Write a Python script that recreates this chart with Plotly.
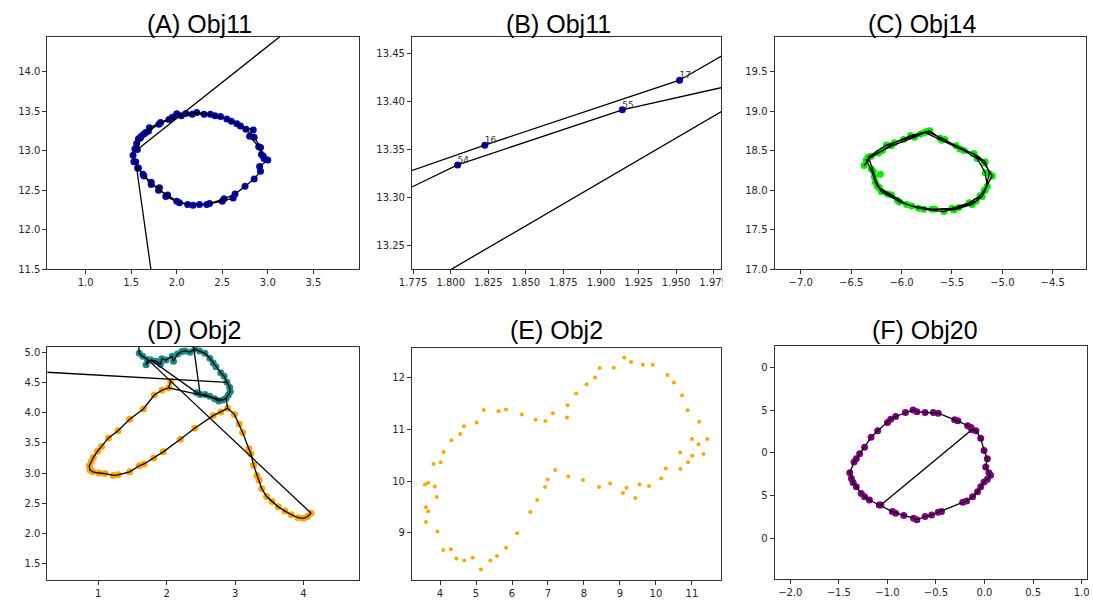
import plotly.graph_objects as go

W, H = 1093, 603

# ---------------- (A)/(B) Obj11 : ordered track samples ----------------
obj11_x = [2.62, 2.50, 2.33, 2.18, 2.03, 1.88, 1.81, 1.72, 1.63, 1.57,
           1.55, 2.20, 8.00, 1.568, 1.60, 1.70, 1.8227, 1.9523, 2.00, 2.10,
           2.22, 2.37, 2.48, 2.60, 2.70, 2.84, 2.80, 2.90, 2.95, 3.00,
           2.91, 2.92, 2.85, 2.75, 2.64, 2.52, 2.36, 2.25, 2.12, 2.00,
           1.90, 1.80, 1.72, 1.64, 1.58, 1.53, 1.52, 1.54, 1.56, 1.58,
           1.61, 1.64, 1.66, 1.69, 1.8046, 1.9142, 2.05, 2.17, 2.30, 2.42,
           2.55, 2.66, 2.76, 2.85, 2.92, 2.93, 2.96]
obj11_y = [12.40, 12.36, 12.32, 12.31, 12.34, 12.42, 12.53, 12.57, 12.70, 12.78,
           12.86, 7.55, 18.874, 13.014, 13.16, 13.288, 13.3547, 13.4222, 13.465, 13.47,
           13.48, 13.46, 13.43, 13.37, 13.31, 13.26, 13.18, 13.05, 12.93, 12.88,
           12.80, 12.74, 12.64, 12.55, 12.45, 12.39, 12.33, 12.32, 12.32, 12.36,
           12.44, 12.50, 12.60, 12.68, 12.78, 12.86, 12.94, 13.02, 13.09, 13.15,
           13.18, 13.21, 13.23, 13.248, 13.3342, 13.3914, 13.439, 13.46, 13.46, 13.44,
           13.40, 13.34, 13.27, 13.17, 13.04, 12.95, 12.90]

# ---------------- (C) Obj14 : three passes around the loop ----------------
obj14_x = [-6.37, -6.30, -6.19, -6.07, -5.91, -5.75, -5.57, -5.38, -5.25, -5.17,
           -5.15, -5.22, -5.33, -5.50, -5.67, -5.83, -6.02, -6.14, -6.24, -6.28,
           -6.33, -6.15, -5.98, -5.81, -5.72, -5.62, -5.46, -5.29, -5.18, -5.10,
           -5.18, -5.26, -5.43, -5.58, -5.78, -5.95, -6.10, -6.22, -6.27,
           -6.35, -6.23, -6.10, -5.87, -5.77, -5.60, -5.42, -5.28, -5.17, -5.13,
           -5.17, -5.20, -5.30, -5.48, -5.70, -5.90, -6.04, -6.20, -6.26, -6.30]
obj14_y = [18.31, 18.43, 18.50, 18.60, 18.69, 18.74, 18.64, 18.50, 18.40, 18.22,
           18.05, 17.93, 17.84, 17.77, 17.76, 17.77, 17.85, 17.95, 18.05, 18.24,
           18.42, 18.57, 18.64, 18.71, 18.75, 18.66, 18.56, 18.46, 18.34, 18.18,
           18.00, 17.86, 17.78, 17.73, 17.76, 17.82, 17.94, 18.03, 18.17,
           18.38, 18.47, 18.56, 18.67, 18.73, 18.63, 18.52, 18.46, 18.36, 18.21,
           18.00, 17.92, 17.82, 17.75, 17.76, 17.80, 17.87, 17.98, 18.10, 18.27]
obj14_stray_x = [-6.21]
obj14_stray_y = [18.20]

# ---------------- (D) Obj2 : two tracks ----------------
obj2_teal_x = [1.60, 1.65, 1.72, 1.70, 1.77, 1.84, 1.91, 1.93, 1.99, 2.08,
               2.10, 2.16, 2.22, 2.27, 2.34, 2.41, 2.48, 2.56, 2.63, 2.68,
               2.72, 2.79, 2.84, 2.88, 2.92, 2.93, 2.90, 2.87, 2.82, 2.76,
               2.70, 2.63, 2.56, 2.49, 2.44]
obj2_teal_y = [4.98, 4.93, 4.88, 4.79, 4.87, 4.85, 4.80, 4.89, 4.87, 4.93,
               4.85, 4.97, 5.01, 5.02, 5.00, 5.05, 5.02, 4.98, 4.90, 4.82,
               4.76, 4.66, 4.60, 4.50, 4.42, 4.35, 4.29, 4.24, 4.21, 4.19,
               4.23, 4.27, 4.30, 4.30, 4.33]
obj2_orange_x = [2.06, 2.03, 1.93, 1.82, 1.66, 1.46, 1.29, 1.15, 1.05, 0.99,
                 0.93, 0.90, 0.87, 0.88, 0.92, 1.01, 1.10, 1.22, 1.29, 1.46,
                 1.60, 1.67, 1.81, 1.95, 2.20, 2.41, 2.68, 2.79, 2.89, 2.99,
                 3.06, 3.11, 3.20, 3.23, 3.27, 3.32, 3.35, 3.39, 3.46, 3.54,
                 3.63, 3.73, 3.82, 3.92, 4.00, 4.06, 4.11]
obj2_orange_y = [4.52, 4.41, 4.37, 4.29, 4.06, 3.89, 3.70, 3.58, 3.44, 3.36,
                 3.26, 3.19, 3.12, 3.05, 3.02, 3.00, 2.99, 2.96, 2.97, 3.02,
                 3.12, 3.15, 3.25, 3.35, 3.56, 3.74, 3.95, 4.01, 4.07, 3.97,
                 3.81, 3.67, 3.40, 3.32, 3.13, 2.96, 2.88, 2.74, 2.61, 2.53,
                 2.44, 2.37, 2.31, 2.26, 2.25, 2.28, 2.335]
# samples that fall outside the displayed window
obj2_far_x = [1.57, 2.33, -2.0]
obj2_far_y = [5.45, 5.60, 4.81]

# ---------------- (E) Obj2 : raw samples ----------------
obj2e_x = [3.582, 3.673, 3.855, 3.909, 3.609, 3.673, 3.609, 3.927, 4.091, 4.300,
           4.455, 4.673, 4.909, 5.136, 5.400, 5.582, 5.836, 6.145, 6.509, 6.700,
           6.918, 6.991, 7.200, 7.564, 7.973, 8.418, 8.727, 9.082, 9.182, 9.427,
           9.545, 9.809, 10.145, 10.273, 10.682, 10.673, 10.891, 11.009, 11.318, 11.182,
           11.000, 11.427, 11.200, 10.882, 10.727, 10.500, 10.318, 9.909, 9.636, 9.309,
           9.118, 8.827, 8.436, 8.309, 8.073, 7.782, 7.545, 7.527, 7.136, 6.927,
           6.655, 6.273, 5.836, 5.627, 5.218, 5.018, 4.664, 4.564, 4.318, 4.100,
           4.018, 3.818]
obj2e_y = [9.939, 9.971, 9.900, 9.696, 9.498, 9.422, 9.211, 9.026, 8.669, 8.682,
           8.503, 8.465, 8.522, 8.292, 8.465, 8.554, 8.713, 8.994, 9.403, 9.639,
           9.888, 10.034, 10.220, 10.092, 10.022, 9.888, 9.958, 9.773, 9.875, 9.677,
           9.939, 9.907, 10.054, 10.245, 10.239, 10.558, 10.366, 10.494, 10.526, 10.717,
           10.819, 10.819, 11.151, 11.375, 11.662, 11.911, 12.057, 12.255, 12.255, 12.306,
           12.396, 12.198, 12.191, 12.006, 11.879, 11.700, 11.470, 11.234, 11.317, 11.164,
           11.190, 11.292, 11.387, 11.355, 11.381, 11.138, 11.062, 10.915, 10.794, 10.564,
           10.366, 10.334]

# ---------------- (F) Obj20 ----------------
obj20_x = [-1.067, -0.130, -0.089, -0.039, -0.005, 0.029, 0.012, 0.045, 0.062, 0.029,
           -0.005, -0.039, -0.072, -0.123, -0.184, -0.224, -0.443, -0.477, -0.544, -0.612,
           -0.696, -0.730, -0.831, -0.915, -0.949, -1.084, -1.185, -1.235, -1.269, -1.320,
           -1.353, -1.370, -1.387, -1.343, -1.320, -1.286, -1.235, -1.168, -1.100, -0.999,
           -0.966, -0.915, -0.814, -0.736, -0.696, -0.612, -0.527, -0.477, -0.308, -0.275,
           -0.173, -0.140]
obj20_y = [13.390, 14.270, 14.259, 14.170, 14.027, 13.931, 13.834, 13.768, 13.738, 13.691,
           13.660, 13.602, 13.545, 13.487, 13.436, 13.421, 13.313, 13.305, 13.274, 13.255,
           13.216, 13.236, 13.267, 13.294, 13.313, 13.390, 13.448, 13.487, 13.525, 13.603,
           13.653, 13.699, 13.768, 13.892, 13.931, 13.988, 14.066, 14.181, 14.259, 14.355,
           14.394, 14.425, 14.471, 14.502, 14.479, 14.471, 14.471, 14.463, 14.386, 14.374,
           14.317, 14.297]
obj20_tick_vals = [13.0, 13.5, 14.0, 14.5, 15.0]
obj20_tick_text = ["0", "5", "0", "5", "0"]

titles = ["(A) Obj11", "(B) Obj11", "(C) Obj14", "(D) Obj2", "(E) Obj2", "(F) Obj20"]


def dom_x(left, right):
    return [left / W, right / W]


def dom_y(top, bottom):
    return [1 - bottom / H, 1 - top / H]


def polyline(xs, ys):
    return dict(x=xs, y=ys, mode="lines", line=dict(color="black", width=1.3),
                hoverinfo="skip", showlegend=False)


def dots(xs, ys, color, size):
    return dict(x=xs, y=ys, mode="markers", marker=dict(color=color, size=size, line=dict(width=0)),
                hoverinfo="skip", showlegend=False)


fig = go.Figure()

# (A)
fig.add_trace(go.Scatter(**dots(obj11_x, obj11_y, "#0000cd", 7), xaxis="x", yaxis="y"))
fig.add_trace(go.Scatter(**polyline(obj11_x, obj11_y), xaxis="x", yaxis="y"))

# (B) zoomed view of the same track, with sample indices
b_xr = [1.7742, 1.9802]
b_yr = [13.2257, 13.4675]
fig.add_trace(go.Scatter(**dots(obj11_x, obj11_y, "#0000cd", 7), xaxis="x2", yaxis="y2"))
fig.add_trace(go.Scatter(**polyline(obj11_x, obj11_y), xaxis="x2", yaxis="y2"))
lab = [i for i in range(len(obj11_x))
       if b_xr[0] <= obj11_x[i] <= b_xr[1] and b_yr[0] <= obj11_y[i] <= b_yr[1]]
fig.add_trace(go.Scatter(x=[obj11_x[i] for i in lab], y=[obj11_y[i] for i in lab],
                         text=[str(i) for i in lab], mode="text", textposition="top right",
                         textfont=dict(family="DejaVu Sans", size=9, color="#333"),
                         hoverinfo="skip", showlegend=False, xaxis="x2", yaxis="y2"))

# (C)
fig.add_trace(go.Scatter(**dots(obj14_x + obj14_stray_x, obj14_y + obj14_stray_y, "#00ee00", 7),
                         xaxis="x3", yaxis="y3"))
fig.add_trace(go.Scatter(**polyline(obj14_x, obj14_y), xaxis="x3", yaxis="y3"))

# (D) tracks and the links between them
T = list(zip(obj2_teal_x, obj2_teal_y))
O = list(zip(obj2_orange_x, obj2_orange_y))
F = list(zip(obj2_far_x, obj2_far_y))
paths = [
    [F[0]] + T + [T[4]],
    [F[1], T[33]],
    [F[2], T[23]],
    [O[1], T[28]],
    [O[28], T[27]],
    [T[2], O[-1]],
    O,
]
dlx, dly = [], []
for p in paths:
    dlx += [q[0] for q in p] + [None]
    dly += [q[1] for q in p] + [None]
fig.add_trace(go.Scatter(**dots(obj2_teal_x, obj2_teal_y, "#1b8a8a", 7), xaxis="x4", yaxis="y4"))
fig.add_trace(go.Scatter(**dots(obj2_orange_x, obj2_orange_y, "#ffa500", 7), xaxis="x4", yaxis="y4"))
fig.add_trace(go.Scatter(**polyline(dlx, dly), xaxis="x4", yaxis="y4"))

# (E)
fig.add_trace(go.Scatter(**dots(obj2e_x, obj2e_y, "#ffa500", 4), xaxis="x5", yaxis="y5"))

# (F)
fig.add_trace(go.Scatter(**dots(obj20_x, obj20_y, "#800080", 7), xaxis="x6", yaxis="y6"))
fig.add_trace(go.Scatter(**polyline(obj20_x, obj20_y), xaxis="x6", yaxis="y6"))

tickfont = dict(family="DejaVu Sans", size=10, color="#262626")


def ax(domain, rng, anchor, **kw):
    d = dict(domain=domain, range=rng, anchor=anchor, showline=True, mirror=True,
             linecolor="#333", linewidth=1, ticks="outside", ticklen=4, tickcolor="#333",
             showgrid=False, zeroline=False, tickfont=tickfont, fixedrange=True)
    d.update(kw)
    return d


row1 = dom_y(37, 272)
row2 = dom_y(350, 586)

fig.update_layout(
    width=W, height=H, margin=dict(l=0, r=0, t=0, b=0),
    paper_bgcolor="white", plot_bgcolor="white", showlegend=False,
    xaxis=ax(dom_x(35, 352), [0.58, 4.0], "y", tickvals=[1.0, 1.5, 2.0, 2.5, 3.0, 3.5], tickformat=".1f"),
    yaxis=ax(row1, [11.5, 14.44], "x", tickvals=[11.5, 12.0, 12.5, 13.0, 13.5, 14.0], tickformat=".1f"),
    xaxis2=ax(dom_x(406, 721), b_xr, "y2",
              tickvals=[1.775, 1.8, 1.825, 1.85, 1.875, 1.9, 1.925, 1.95, 1.975], tickformat=".3f"),
    yaxis2=ax(row1, b_yr, "x2", tickvals=[13.25, 13.3, 13.35, 13.4, 13.45], tickformat=".2f"),
    xaxis3=ax(dom_x(775, 1092), [-7.26, -4.17], "y3",
              tickvals=[-7.0, -6.5, -6.0, -5.5, -5.0, -4.5], tickformat=".1f"),
    yaxis3=ax(row1, [17.0, 19.94], "x3", tickvals=[17.0, 17.5, 18.0, 18.5, 19.0, 19.5], tickformat=".1f"),
    xaxis4=ax(dom_x(35, 352), [0.258, 4.808], "y4", tickvals=[1, 2, 3, 4]),
    yaxis4=ax(row2, [1.227, 5.093], "x4", tickvals=[1.5, 2.0, 2.5, 3.0, 3.5, 4.0, 4.5, 5.0], tickformat=".1f"),
    xaxis5=ax(dom_x(406, 721), [3.22, 11.82], "y5", tickvals=[4, 5, 6, 7, 8, 9, 10, 11]),
    yaxis5=ax(dom_y(351, 586), [8.086, 12.588], "x5", tickvals=[9, 10, 11, 12]),
    xaxis6=ax(dom_x(775, 1092.5), [-2.162, 1.05], "y6",
              tickvals=[-2.0, -1.5, -1.0, -0.5, 0.0, 0.5, 1.0], tickformat=".1f"),
    yaxis6=ax(dom_y(349, 585), [12.522, 15.255], "x6",
              tickvals=obj20_tick_vals, ticktext=obj20_tick_text),
)

# panel titles
title_pos = [(190, 24), (555, 24), (925.5, 24), (184, 333), (553, 333), (928, 333)]
for t, (tx, ty) in zip(titles, title_pos):
    fig.add_annotation(text=t, x=tx / W, y=1 - ty / H, xref="paper", yref="paper",
                       xanchor="center", yanchor="middle", showarrow=False,
                       font=dict(family="Liberation Sans", size=25, color="black"))

# the last x label of (B) is cut at the panel edge
fig.add_shape(type="rect", xref="paper", yref="paper", x0=722.5 / W, x1=745 / W,
              y0=1 - 296 / H, y1=1 - 274 / H, fillcolor="white", line=dict(width=0), layer="above")

fig.write_html("out.html", post_script="document.body.style.margin='0';")
